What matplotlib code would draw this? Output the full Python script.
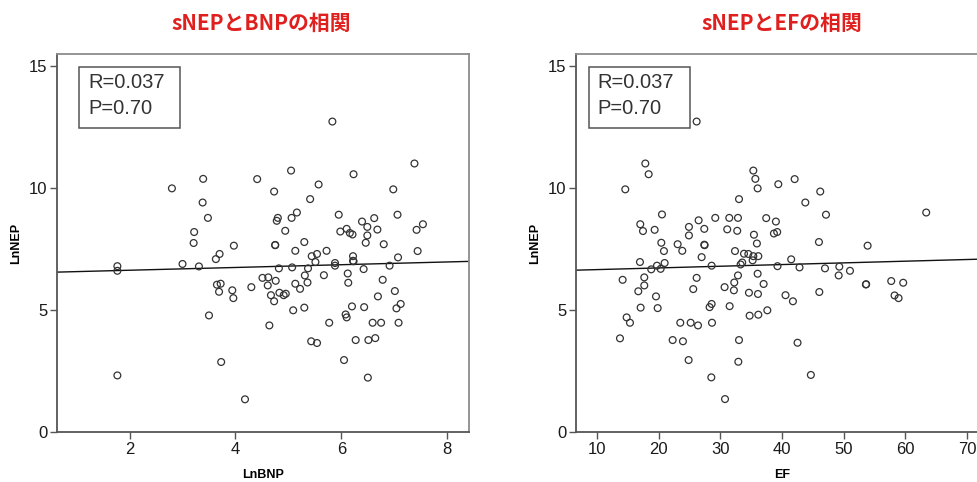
import matplotlib
matplotlib.use("Agg")
import matplotlib.pyplot as plt
from matplotlib.patches import Rectangle

plt.rcParams['font.family'] = ['Liberation Sans', 'Noto Sans CJK JP', 'DejaVu Sans']

# LnBNP vs LnNEP (left panel)
bnp_x = [2.80, 3.39, 3.38, 3.48, 3.22, 3.21, 3.00, 3.31, 3.63, 3.70, 3.97, 3.65, 3.72, 3.69,
         3.94, 3.96, 3.50, 3.73, 4.41, 5.05, 4.73, 5.57, 5.41, 6.23, 7.38, 6.98, 7.06, 7.54,
         7.42, 7.44, 7.07, 6.91, 6.78, 7.01, 7.12, 7.04, 7.08, 6.75, 6.59, 6.69, 6.64, 6.51,
         6.50, 6.27, 6.05, 6.08, 6.10, 5.77, 6.20, 6.43, 5.43, 5.54, 5.30, 5.09, 4.64, 4.73,
         4.67, 4.83, 4.91, 4.95, 5.22, 5.13, 5.36, 5.31, 5.67, 4.30, 4.51, 4.62, 4.76, 4.61,
         4.82, 5.07, 5.37, 5.51, 5.44, 5.54, 5.72, 5.13, 5.30, 4.75, 4.75, 4.94, 4.78, 4.80,
         5.06, 5.16, 5.95, 5.98, 6.10, 6.16, 6.21, 6.39, 6.49, 6.62, 6.68, 6.49, 6.46, 6.80,
         6.22, 6.22, 6.23, 5.88, 5.88, 6.12, 6.13, 6.42, 1.77, 1.77, 1.77, 4.18, 5.83]
bnp_nep = [9.99, 10.38, 9.41, 8.78, 8.20, 7.75, 6.89, 6.79, 7.09, 7.30, 7.64, 6.04, 6.08, 5.75,
           5.81, 5.49, 4.78, 2.87, 10.37, 10.72, 9.86, 10.15, 9.55, 10.57, 11.01, 9.95, 8.91, 8.52,
           8.29, 7.42, 7.16, 6.82, 6.24, 5.78, 5.25, 5.07, 4.48, 4.48, 4.48, 5.56, 3.85, 3.77,
           2.23, 3.77, 2.95, 4.82, 4.70, 4.48, 5.15, 5.12, 3.72, 3.65, 5.10, 4.99, 4.37, 5.36,
           5.61, 5.71, 5.61, 5.67, 5.87, 6.08, 6.13, 6.42, 6.43, 5.94, 6.32, 6.34, 6.20, 6.01,
           6.71, 6.75, 6.71, 6.97, 7.21, 7.30, 7.43, 7.43, 7.79, 7.66, 7.67, 8.25, 8.66, 8.78,
           8.78, 9.00, 8.91, 8.22, 8.33, 8.16, 8.10, 8.63, 8.41, 8.77, 8.30, 8.06, 7.76, 7.70,
           7.21, 7.02, 7.00, 6.93, 6.82, 6.50, 6.12, 6.68, 6.80, 6.61, 2.32, 1.34, 12.73]

# EF vs LnNEP (right panel)
ef_x = [17.84, 18.38, 14.59, 35.35, 35.68, 36.05, 39.40, 42.05, 33.03, 43.78, 20.54, 17.02,
        17.46, 19.35, 24.91, 24.91, 26.48, 27.40, 29.18, 31.45, 32.86, 31.12, 32.74, 37.44,
        39.01, 38.69, 39.22, 35.45, 35.93, 20.43, 20.86, 23.08, 23.83, 27.40, 27.45, 26.97,
        32.38, 33.84, 34.54, 35.35, 36.16, 35.24, 33.55, 33.29, 28.59, 39.27, 41.49, 42.84,
        16.97, 19.73, 20.32, 18.80, 20.97, 14.16, 17.67, 17.67, 16.70, 19.57, 17.08, 19.84,
        14.81, 15.35, 13.73, 26.16, 25.61, 30.69, 32.26, 32.20, 32.86, 36.05, 37.02, 34.64,
        36.10, 40.57, 41.77, 28.59, 28.26, 31.51, 34.75, 36.16, 37.62, 23.51, 25.19, 26.38,
        28.65, 22.27, 23.94, 33.03, 42.52, 24.86, 32.92, 28.54, 30.76, 26.16,
        46.20, 47.13, 45.99, 53.88, 63.38, 46.97, 49.29, 51.02, 49.19, 53.60, 53.65, 57.71,
        59.65, 58.25, 58.90, 46.05, 44.68]
ef_nep = [11.01, 10.57, 9.95, 10.72, 10.38, 9.99, 10.16, 10.37, 9.55, 9.41, 8.92, 8.52,
          8.24, 8.29, 8.41, 8.06, 8.68, 8.33, 8.78, 8.78, 8.78, 8.31, 8.25, 8.77,
          8.63, 8.14, 8.20, 8.09, 7.73, 7.76, 7.42, 7.70, 7.43, 7.68, 7.66, 7.17,
          7.42, 7.31, 7.30, 7.21, 7.21, 7.04, 6.95, 6.87, 6.82, 6.80, 7.08, 6.75,
          6.97, 6.82, 6.69, 6.67, 6.93, 6.24, 6.34, 6.01, 5.77, 5.56, 5.10, 5.08,
          4.70, 4.48, 3.84, 6.32, 5.86, 5.94, 6.13, 5.81, 6.42, 6.49, 6.07, 5.71,
          5.66, 5.61, 5.36, 5.25, 5.12, 5.16, 4.77, 4.81, 4.99, 4.48, 4.48, 4.37,
          4.48, 3.77, 3.72, 3.77, 3.66, 2.95, 2.88, 2.24, 1.35, 12.73,
          9.86, 8.91, 7.79, 7.64, 9.00, 6.71, 6.78, 6.61, 6.42, 6.05, 6.06, 6.19,
          6.12, 5.60, 5.49, 5.74, 2.34]

# fitted lines (intercept, slope)
bnp_fit = (6.52, 0.0566)
ef_fit = (6.59, 0.0069)
stats_text = "R=0.037\nP=0.70"

fig = plt.figure(figsize=(9.77, 4.82), dpi=100)
W, H = 977, 482


def make_axes(left_px, xlim, xticks):
    ax = fig.add_axes([left_px / W, 1 - 432 / H, 412 / W, 378 / H])
    ax.set_xlim(*xlim)
    ax.set_ylim(0, 15.5)
    ax.set_xticks(xticks)
    ax.set_yticks([0, 5, 10, 15])
    for s in ['top', 'right']:
        ax.spines[s].set_color('#8c8c8c')
    for s in ['left', 'bottom']:
        ax.spines[s].set_color('#555555')
    for s in ax.spines.values():
        s.set_linewidth(1.3)
    ax.tick_params(direction='out', length=5, width=1, color='#555555',
                   labelsize=12, labelcolor='#1a1a1a', pad=2)
    return ax


def draw(ax, x, y, fit, xlabel, box_left, box_text_left):
    ax.scatter(x, y, s=24, facecolors='none', edgecolors='#333333', linewidths=0.9, zorder=3)
    ax.axline((0, fit[0]), slope=fit[1], color='#111111', lw=1.0, zorder=2)
    ax.add_patch(Rectangle((box_left, 0.804), 0.245, 0.1616, transform=ax.transAxes,
                           fill=False, edgecolor='#555555', lw=1.1, zorder=4))
    lines = stats_text.split("\n")
    ax.text(box_text_left, 0.925, lines[0], transform=ax.transAxes, fontsize=14.5,
            color='#333333', va='center', ha='left')
    ax.text(box_text_left, 0.855, lines[1], transform=ax.transAxes, fontsize=14.5,
            color='#333333', va='center', ha='left')
    ax.set_xlabel(xlabel, fontsize=9, fontweight='bold', va='center')
    ax.set_ylabel('LnNEP', fontsize=9, fontweight='bold', va='center')
    ax.xaxis.set_label_coords(0.5, -0.114)
    ax.yaxis.set_label_coords(-0.0995, 0.5)


ax1 = make_axes(57, (0.63, 8.41), [2, 4, 6, 8])
draw(ax1, bnp_x, bnp_nep, bnp_fit, 'LnBNP', 0.0534, 0.076)

ax2 = make_axes(576, (6.6, 73.4), [10, 20, 30, 40, 50, 60, 70])
draw(ax2, ef_x, ef_nep, ef_fit, 'EF', 0.0316, 0.053)

fig.text(261 / W, 1 - 23 / H, 'sNEPとBNPの相関', family=['Noto Sans CJK JP'],
         fontweight='bold', fontsize=15, color='#e0201f', ha='center', va='center')
fig.text(782 / W, 1 - 23 / H, 'sNEPとEFの相関', family=['Noto Sans CJK JP'],
         fontweight='bold', fontsize=15, color='#e0201f', ha='center', va='center')

fig.savefig('out.png', dpi=100)
